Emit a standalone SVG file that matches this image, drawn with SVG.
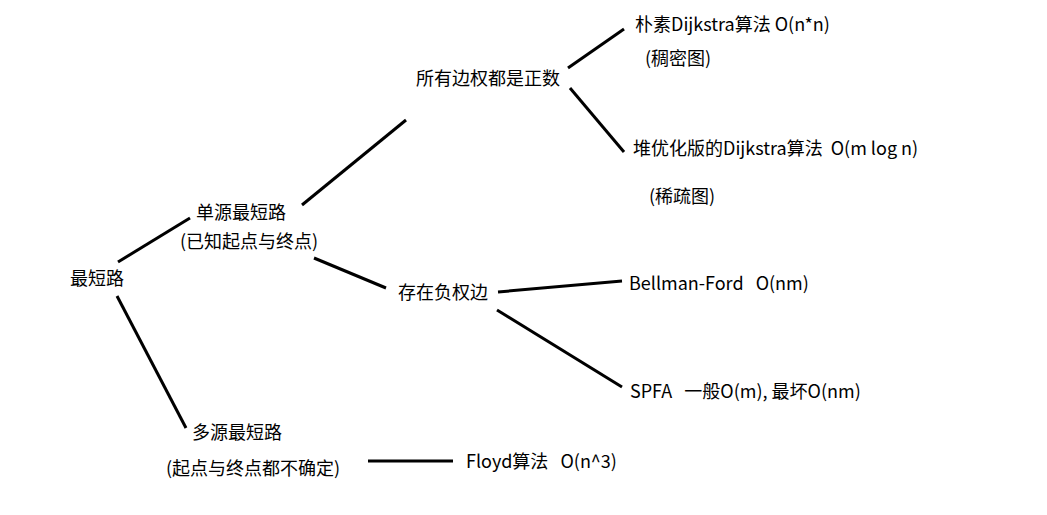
<svg xmlns="http://www.w3.org/2000/svg" width="1047" height="515" viewBox="0 0 1047 515">
<style>
text{font-family:"Microsoft YaHei","Noto Sans CJK SC","Noto Sans",sans-serif;font-size:18px;fill:#000;white-space:pre}
.c line{stroke:#000;stroke-width:3;stroke-linecap:butt}
</style>
<rect width="1047" height="515" fill="#fff"/>
<g class="c" id="connectors">
<line x1="118" y1="262" x2="190" y2="218"/>
<line x1="117" y1="296" x2="186" y2="428"/>
<line x1="302" y1="205" x2="406" y2="120"/>
<line x1="314" y1="258" x2="386" y2="288"/>
<line x1="568" y1="68" x2="624" y2="29"/>
<line x1="570" y1="88" x2="624" y2="152"/>
<line x1="498" y1="292" x2="622" y2="281"/>
<line x1="497" y1="310" x2="622" y2="387"/>
<line x1="368" y1="461" x2="453" y2="461"/>
</g>
<g id="root"><text x="70" y="285">最短路</text></g>
<g id="single"><text x="196" y="219">单源最短路</text><text x="180" y="248">(已知起点与终点)</text></g>
<g id="positive"><text x="416" y="85">所有边权都是正数</text></g>
<g id="naive"><text x="635" y="31">朴素Dijkstra算法 O(n*n)</text><text x="645" y="65">(稠密图)</text></g>
<g id="heap"><text x="633" y="155" xml:space="preserve">堆优化版的Dijkstra算法  O(m log n)</text><text x="649" y="203">(稀疏图)</text></g>
<g id="negative"><text x="398" y="299">存在负权边</text></g>
<g id="bellman"><text x="629" y="290" xml:space="preserve">Bellman-Ford   O(nm)</text></g>
<g id="spfa"><text x="630" y="398" xml:space="preserve">SPFA   一般O(m), 最坏O(nm)</text></g>
<g id="multi"><text x="192" y="439">多源最短路</text><text x="166" y="475">(起点与终点都不确定)</text></g>
<g id="floyd"><text x="466" y="468" xml:space="preserve">Floyd算法   O(n^3)</text></g>
</svg>
